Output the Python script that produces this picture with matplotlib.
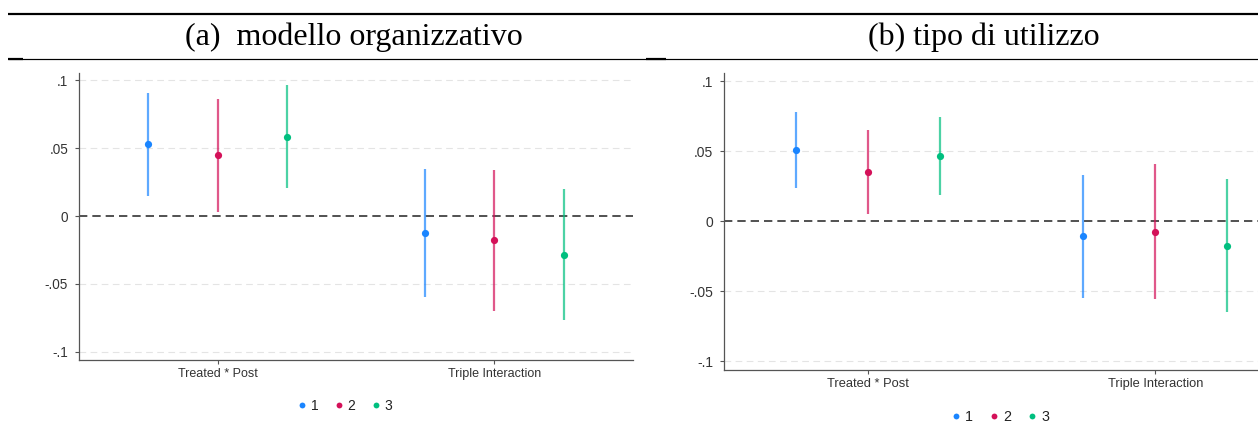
import matplotlib
matplotlib.use("Agg")
import matplotlib.pyplot as plt
from matplotlib.lines import Line2D
import numpy as np

plt.rcParams["font.family"] = ["Liberation Sans", "DejaVu Sans"]

# ---------------- data ----------------
categories = ["Treated * Post", "Triple Interaction"]
series_labels = ["1", "2", "3"]
colors = ["#1a85ff", "#d41159", "#00bf7f"]

# panel (a) modello organizzativo
a_est = [[0.0529, -0.0127], [0.0446, -0.0179], [0.0583, -0.0284]]
a_lo = [[0.0147, -0.0598], [0.0032, -0.0696], [0.0204, -0.0765]]
a_hi = [[0.0907, 0.0343], [0.0863, 0.0338], [0.0963, 0.0199]]

# panel (b) tipo di utilizzo
b_est = [[0.0507, -0.0107], [0.0350, -0.0076], [0.0464, -0.0174]]
b_lo = [[0.0238, -0.0546], [0.0052, -0.0557], [0.0186, -0.0650]]
b_hi = [[0.0779, 0.0331], [0.0650, 0.0407], [0.0743, 0.0300]]

yticks = [-0.1, -0.05, 0, 0.05, 0.1]
yticklabels = ["-.1", "-.05", "0", ".05", ".1"]
titles = ["(a)  modello organizzativo", "(b) tipo di utilizzo"]

W, H = 1258, 434
fig = plt.figure(figsize=(W / 100, H / 100), dpi=100)

def px_rect(x0, y0, x1, y1):
    return [x0 / W, 1 - y1 / H, (x1 - x0) / W, (y1 - y0) / H]

offsets = [-0.25, 0.0, 0.25]

def draw_panel(rect, est, lo, hi, ylim, fs, legend_xy, leg_fs):
    ax = fig.add_axes(rect)
    xs = np.arange(1, len(categories) + 1)
    for yt in yticks:
        if yt != 0:
            ax.axhline(yt, color="#e4e4e4", lw=0.8, ls=(0, (6, 4)), zorder=0)
    ax.axhline(0, color="#333333", lw=1.2, ls=(0, (5, 3)), zorder=1)
    for i in range(len(series_labels)):
        x = xs + offsets[i]
        ax.vlines(x, lo[i], hi[i], color=colors[i], lw=1.6, alpha=0.7, zorder=2)
        ax.plot(x, est[i], "o", color=colors[i], ms=5.2, mew=0, zorder=3)
    ax.set_xlim(0.5, len(categories) + 0.5)
    ax.set_ylim(*ylim)
    ax.set_xticks(xs)
    ax.set_xticklabels(categories, fontsize=fs, color="#333333")
    ax.set_yticks(yticks)
    ax.set_yticklabels(yticklabels, fontsize=fs * 1.08, color="#333333")
    for s in ["top", "right"]:
        ax.spines[s].set_visible(False)
    for s in ["left", "bottom"]:
        ax.spines[s].set_color("#555555")
        ax.spines[s].set_linewidth(0.9)
    ax.tick_params(axis="both", length=3, width=0.8, color="#555555")
    ax.tick_params(axis="x", pad=3)
    ax.tick_params(axis="y", pad=5)
    handles = [Line2D([], [], ls="none", marker="o", ms=4.2, mew=0, color=c) for c in colors]
    fig.legend(handles, series_labels, loc="center",
               bbox_to_anchor=(legend_xy[0] / W, 1 - legend_xy[1] / H),
               ncol=3, frameon=False, fontsize=leg_fs, handlelength=0.6,
               handletextpad=0.35, columnspacing=1.15, borderpad=0,
               labelcolor="#222222")
    return ax

draw_panel(px_rect(79.3, 72.7, 632.7, 360.0), a_est, a_lo, a_hi,
           (-0.1059, 0.1054), 9.0, (345, 405.7), 10)
draw_panel(px_rect(724.3, 73.3, 1299.0, 370.0), b_est, b_lo, b_hi,
           (-0.1062, 0.1057), 9.3, (1000.5, 416.7), 10.3)

# title rules
def hline_px(y, x0, x1, lw_px):
    fig.add_artist(Line2D([x0 / W, x1 / W], [1 - y / H, 1 - y / H],
                          color="black", lw=lw_px * 0.72, solid_capstyle="butt"))

hline_px(14.0, 8.3, W, 2.2)
hline_px(58.6, 8.3, W, 1.2)
hline_px(59.3, 8.3, 22.7, 2.2)
hline_px(59.3, 646, 666, 2.2)

fig.text(354 / W, 1 - 37 / H, titles[0], ha="center", va="center",
         fontsize=23, family="Liberation Serif")
fig.text(984 / W, 1 - 37 / H, titles[1], ha="center", va="center",
         fontsize=23, family="Liberation Serif")

fig.savefig("out.png", dpi=100)
